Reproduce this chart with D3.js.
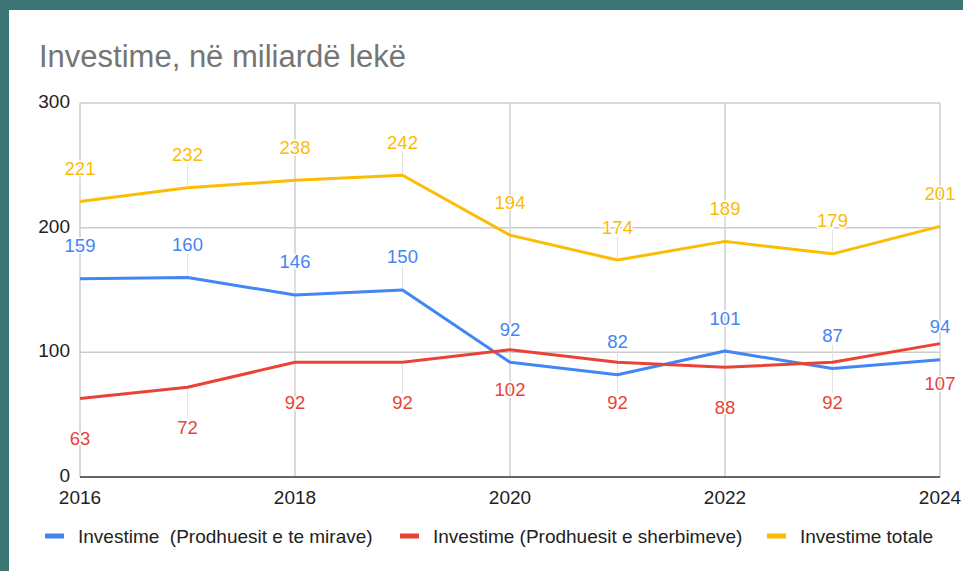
<!DOCTYPE html>
<html>
<head>
<meta charset="utf-8">
<script src="https://cdn.jsdelivr.net/npm/d3@7"></script>
<style>
  html, body { margin: 0; padding: 0; background: #3b7573; }
  svg { display: block; font-family: "Liberation Sans", Arial, sans-serif; }
</style>
</head>
<body>
<svg id="chart" width="963" height="571"></svg>
<script>
// data
var years = [2016, 2017, 2018, 2019, 2020, 2021, 2022, 2023, 2024];
var mirave = [159, 160, 146, 150, 92, 82, 101, 87, 94];
var sherbimeve = [63, 72, 92, 92, 102, 92, 88, 92, 107];
var totale = [221, 232, 238, 242, 194, 174, 189, 179, 201];
var xTicks = [2016, 2018, 2020, 2022, 2024];
var yTicks = [0, 100, 200, 300];

var series = [
    { name: "Investime  (Prodhuesit e te mirave)", values: mirave, color: "#4285f4", dy: -33 },
    { name: "Investime (Prodhuesit e sherbimeve)", values: sherbimeve, color: "#ea4335", dy: 40 },
    { name: "Investime totale", values: totale, color: "#fbbc04", dy: -33 }
];

var svg = d3.select("#chart");

// white panel
svg.append("rect")
    .attr("x", 9).attr("y", 10)
    .attr("width", 954).attr("height", 561)
    .attr("fill", "#fff");

// title
svg.append("text")
    .attr("x", 39).attr("y", 67)
    .attr("font-size", 31)
    .attr("fill", "#757575")
    .text("Investime, në miliardë lekë");

var x = d3.scaleLinear().domain([2016, 2024]).range([80, 940]);
var y = d3.scaleLinear().domain([0, 300]).range([477, 103]);

var grid = svg.append("g");

// vertical gridlines
grid.selectAll(".vg")
    .data(xTicks)
    .join("line")
    .attr("x1", d => x(d)).attr("x2", d => x(d))
    .attr("y1", y(300)).attr("y2", y(0))
    .attr("stroke", "#cccccc").attr("stroke-width", 1.5);

// horizontal gridlines
grid.selectAll(".hg")
    .data(yTicks.filter(d => d > 0))
    .join("line")
    .attr("x1", x(2016)).attr("x2", x(2024))
    .attr("y1", d => y(d)).attr("y2", d => y(d))
    .attr("stroke", "#cccccc").attr("stroke-width", 1.5);

// baseline
svg.append("line")
    .attr("x1", x(2016)).attr("x2", x(2024))
    .attr("y1", y(0)).attr("y2", y(0))
    .attr("stroke", "#333").attr("stroke-width", 1.5);

// y axis labels
svg.append("g").selectAll("text")
    .data(yTicks)
    .join("text")
    .attr("x", 70)
    .attr("y", d => y(d) - 1.5)
    .attr("dy", "0.35em")
    .attr("text-anchor", "end")
    .attr("font-size", 19)
    .attr("fill", "#222")
    .text(d => d);

// x axis labels
svg.append("g").selectAll("text")
    .data(xTicks)
    .join("text")
    .attr("x", d => x(d))
    .attr("y", 503.5)
    .attr("text-anchor", "middle")
    .attr("font-size", 19)
    .attr("fill", "#222")
    .text(d => d);

var line = d3.line()
    .x((d, i) => x(years[i]))
    .y(d => y(d));

// annotation stems
series.forEach(s => {
    svg.append("g").selectAll("line")
        .data(s.values)
        .join("line")
        .attr("x1", (d, i) => x(years[i])).attr("x2", (d, i) => x(years[i]))
        .attr("y1", d => y(d))
        .attr("y2", d => y(d) + s.dy + (s.dy < 0 ? 9 : -9))
        .attr("stroke", "#e3e3e3").attr("stroke-width", 1);
});

// lines
series.forEach(s => {
    svg.append("path")
        .datum(s.values)
        .attr("fill", "none")
        .attr("stroke", s.color)
        .attr("stroke-width", 3)
        .attr("stroke-linejoin", "round")
        .attr("d", line);
});

// data labels
series.forEach(s => {
    svg.append("g").selectAll("text")
        .data(s.values)
        .join("text")
        .attr("x", (d, i) => x(years[i]))
        .attr("y", d => y(d) + s.dy)
        .attr("dy", "0.35em")
        .attr("text-anchor", "middle")
        .attr("font-size", 18.5)
        .attr("fill", s.color)
        .attr("stroke", "#fff")
        .attr("stroke-width", 3)
        .attr("paint-order", "stroke")
        .text(d => d);
});

// legend
var legendX = [45, 400, 767];
var legend = svg.append("g").selectAll("g")
    .data(series)
    .join("g")
    .attr("transform", (d, i) => "translate(" + legendX[i] + ",536)");

legend.append("rect")
    .attr("x", 0).attr("y", -2.5)
    .attr("width", 19).attr("height", 5)
    .attr("fill", d => d.color);

legend.append("text")
    .attr("x", 33)
    .attr("dy", "0.35em")
    .attr("font-size", 19)
    .attr("fill", "#222")
    .attr("xml:space", "preserve")
    .style("white-space", "pre")
    .text(d => d.name);
</script>
</body>
</html>
